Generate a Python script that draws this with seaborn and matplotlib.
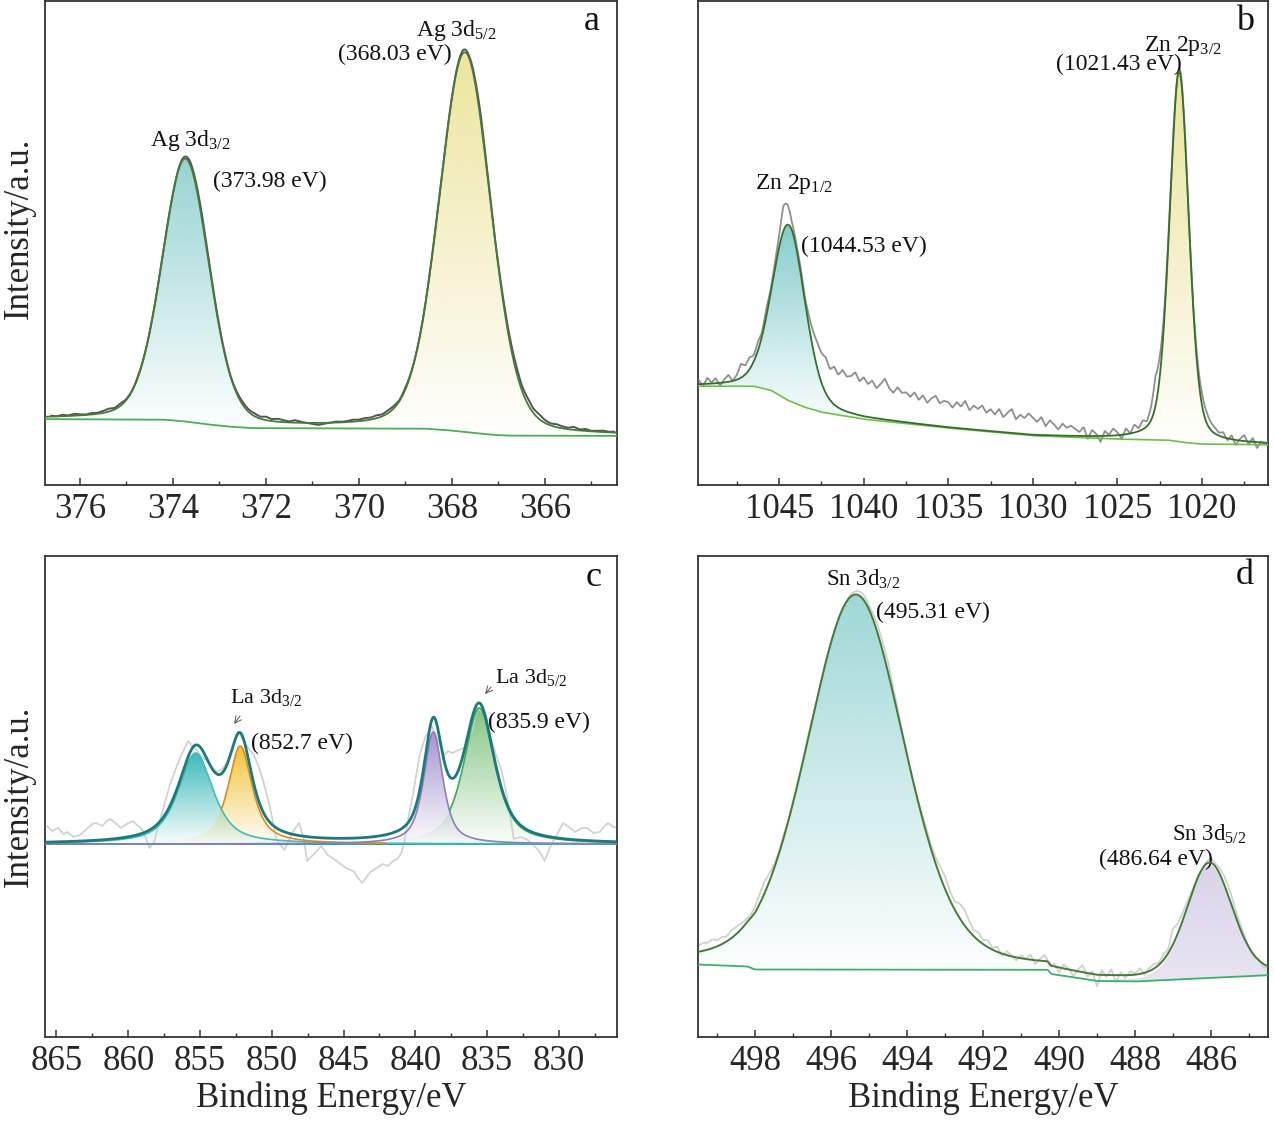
import numpy as np
import matplotlib
matplotlib.use("Agg")
import matplotlib.pyplot as plt
import seaborn as sns
from matplotlib.colors import to_rgb
from matplotlib.patches import Polygon
from matplotlib.ticker import MultipleLocator

# ======================= DATA =======================
# ---- panel a : Ag 3d ----
a_ticks = [376, 374, 372, 370, 368, 366]
a_peak_center = [373.73, 367.72]
a_peak_height = [262.5, 380.0]
a_peak_fwhm = [1.2, 1.32]
a_peak_eta = [0.2, 0.2]
a_bg_energy = [376.75, 374.2, 373.8, 373.3, 372.8, 372.3, 368.6, 368.1, 367.6, 367.1, 366.8, 364.45]
a_bg_intensity = [66, 65.5, 64, 61, 58.5, 57, 56.5, 55, 52.5, 50.2, 49.5, 49.2]
a_raw_start, a_raw_step = 376.625, 0.125
a_raw_dev = [1, 0, 1.5, 0.5, 2, 1, 0.5, 1.5,
             1, 2, 3, 1.5, 2.5, 1, 0.5, 1,
             0.5, 0, -0.5, 0, 0.5, 0, 1, 2,
             3, 4, 5, 4, 3, 2, 1.5, 1,
             2, 3, 2.5, 3, 2, 3.5, 2, 3,
             2, 1, 2.5, 1, 0, -1, -2, -1,
             0, 1, 0.5, 1, 2, 1.5, 2.5, 2,
             3, 2, 3, 2.5, 1, 2, 1, 0,
             -1, 0, 0.5, 1, 0, 1, 2, 3,
             2, 4, 6, 3, 1, 2, 4, 5,
             6, 5, 6, 4.5, 5, 3, 2, 3,
             2, 1.5, 3, 1, 2, 0.5, 1, 1.5,
             0.5, 1]

# ---- panel b : Zn 2p ----
b_ticks = [1045, 1040, 1035, 1030, 1025, 1020]
b_peak_center = [1044.45, 1021.35]
b_peak_height = [176.0, 371.0]
b_peak_fwhm = [2.3, 1.35]
b_peak_eta = [0.25, 0.3]
b_bg_energy = [1049.8, 1046.5, 1045.5, 1044.5, 1043.5, 1042.5, 1040, 1035, 1030, 1025, 1022, 1021, 1020, 1016.1]
b_bg_intensity = [99, 99, 95, 85, 78, 73, 66, 57, 49.4, 46, 45, 42.5, 41, 40.4]
b_raw_start, b_raw_step = 1049.75, 0.25
b_raw_dev = [4, -2, 6, 1, 5, -3, 3, 7, 0, 5,
             14, 9, 12, 6, 9, 4, 8, 3, 6, 12,
             25, 20, 8, 4, 6, 3, 10, 18, 26, 30,
             36, 31, 38, 33, 40, 35, 37, 42, 34, 39,
             33, 37, 30, 35, 41, 32, 28, 34, 29, 30,
             26, 31, 24, 29, 22, 27, 30, 23, 26, 25,
             20, 26, 22, 28, 19, 24, 21, 25, 18, 22,
             17, 23, 15, 20, 24, 14, 19, 16, 21, 17,
             13, 18, 9, 15, 11, 6, 12, 8, 10, 7,
             4, 9, -3, 6, 2, -6, 5, 1, 7, 3,
             -4, 6, 0, 8, 3, 9, 5, 14, 30, 20,
             10, 6, 3, 2, 4, 3, 2, 5, 9, 12,
             11, 8, 6, 3, 5, -2, 4, -5, 2, 6,
             -3, 4, -6, 1, -2, 3]

# ---- panel c : La 3d ----
c_ticks = [865, 860, 855, 850, 845, 840, 835, 830]
c_baseline = 193.0
c_peak_center = [855.3, 852.2, 838.75, 835.55]
c_peak_height = [91, 98, 112, 136]
c_peak_fwhm = [2.9, 2.0, 1.57, 2.57]
c_peak_eta = [0.7, 0.8, 0.7, 0.7]
c_raw_energy = [865.66, 865.3, 864.9, 864.5, 864.23, 863.8, 863.37, 862.9, 862.5, 862.23,
                861.8, 861.5, 861.23, 860.9, 860.52, 860.1, 859.67, 859.4, 859.10, 858.8,
                858.52, 858.2, 857.95, 857.5, 857.10, 856.7, 856.3, 855.82, 855.39, 854.95,
                854.53, 854.2, 853.82, 853.45, 853.11, 852.7, 852.34, 851.8, 851.25, 850.9,
                850.54, 850.1, 849.68, 849.4, 849.11, 848.8, 848.54, 848.11, 847.8, 847.54,
                847.0, 846.55, 846.1, 845.69, 845.3, 844.83, 844.5, 844.26, 843.95, 843.69,
                843.4, 843.12, 842.7, 842.27, 841.9, 841.55, 841.25, 840.98, 840.75, 840.56,
                840.1, 839.70, 839.3, 838.85, 838.4, 837.99, 837.7, 837.42, 837.0, 836.56,
                836.1, 835.71, 835.3, 834.85, 834.4, 834.00, 833.6, 833.14, 832.7, 832.28,
                831.85, 831.43, 831.2, 831.00, 830.8, 830.57, 830.1, 829.72, 829.3, 828.86,
                828.4, 828.01, 827.6, 827.15, 826.8, 826.58, 826.2, 825.95]
c_raw_intensity = [211, 206, 209, 203, 205, 200, 202, 208, 213, 214,
                   211, 216, 218, 214, 209, 213, 216, 212, 209, 200,
                   189, 195, 209, 232, 252, 268, 282, 296, 289, 282,
                   276, 270, 265, 268, 275, 292, 305, 292, 282, 270,
                   253, 228, 198, 192, 187, 197, 205, 214, 200, 176,
                   184, 191, 182, 178, 174, 169, 167, 165, 158, 154,
                   160, 165, 169, 173, 171, 176, 178, 184, 196, 213,
                   248, 282, 300, 311, 296, 282, 286, 284, 287, 289,
                   305, 329, 325, 305, 283, 267, 240, 198, 200, 198,
                   193, 187, 182, 176, 183, 191, 203, 214, 210, 205,
                   209, 209, 204, 205, 211, 214, 210, 209]

# ---- panel d : Sn 3d ----
d_ticks = [498, 496, 494, 492, 490, 488, 486]
d_peak_center = [495.35, 486.04]
d_peak_height = [375.0, 113.0]
d_peak_fwhm = [3.03, 1.4]
d_peak_eta = [0.25, 0.2]
d_bg_energy = [499.5, 498.2, 498.0, 490.3, 490.2, 489.0, 488.0, 484.5]
d_bg_intensity = [72.5, 70.5, 67.5, 67.2, 63, 56, 55.5, 61.8]
d_raw_start, d_raw_step = 499.5, 0.125
d_raw_dev = [6, 8, 7, 9, 6, 7, 5, 8, 7, 6,
             4, 3, 6, 10, 12, 8, 4, 2, 3, 1,
             2, 0, 1, 3, 2, 1, 0, 2, 1, 0,
             1, 0, 2, 3, 4, 5, 4, 6, 8, 9,
             10, 7, 4, 2, 0, -1, 1, 3, 5, 4,
             6, 10, 13, 9, 8, 14, 16, 11, 6, 8,
             4, 7, 2, 5, -2, 4, 1, -3, 3, 0,
             5, -4, 2, 6, -3, 3, -5, 4, 1, -6,
             2, 7, -4, 3, -12, 5, -2, 6, -7, 3,
             -3, 4, 1, 6, -2, 3, 5, 2, 6, 4,
             16, 10, 8, 5, 3, 2, 0, 2, 4, 3,
             6, 9, 10, 7, 5, 3, 0, -2, 1, -3, -2]

# ======================= STYLE =======================
sns.set_theme(style="ticks")
plt.rcParams['font.family'] = ['Liberation Serif', 'DejaVu Serif']
plt.rcParams['mathtext.fontset'] = 'custom'
plt.rcParams['mathtext.rm'] = 'Liberation Serif'
plt.rcParams['mathtext.it'] = 'Liberation Serif:italic'
plt.rcParams['mathtext.bf'] = 'Liberation Serif:bold'

SPINE = '#333333'


def pv(x, c, h, w, eta):
    d2 = 4.0 * (x - c) ** 2 / w ** 2
    return h * (eta / (1.0 + d2) + (1.0 - eta) * np.exp(-np.log(2.0) * d2))


def bg_at(x, e, i):
    e = np.asarray(e, float)
    i = np.asarray(i, float)
    o = np.argsort(e)
    return np.interp(x, e[o], i[o])


def gradient_fill(ax, x, ylow, yhigh, color, a_top=1.0, a_bot=0.0, zorder=1):
    verts = np.concatenate([np.column_stack([x, yhigh]),
                            np.column_stack([x[::-1], ylow[::-1]])])
    poly = Polygon(verts, closed=True, facecolor='none', edgecolor='none')
    ax.add_patch(poly)
    top = yhigh.max()
    bot = ylow.min()
    n = 256
    img = np.zeros((n, 1, 4))
    img[:, 0, :3] = to_rgb(color)
    img[:, 0, 3] = np.linspace(a_bot, a_top, n)
    im = ax.imshow(img, extent=(x.min(), x.max(), bot, top), origin='lower',
                   aspect='auto', zorder=zorder, interpolation='bilinear')
    im.set_clip_path(poly)


def line(ax, x, y, color, lw, z):
    sns.lineplot(x=x, y=y, ax=ax, color=color, linewidth=lw, sort=False,
                 estimator=None, zorder=z)


def style_axes(ax, xlim, ylim, ticks, minor):
    ax.set_xlim(*xlim)
    ax.set_ylim(*ylim)
    ax.set_xticks(ticks, labels=[str(t) for t in ticks])
    ax.xaxis.set_minor_locator(MultipleLocator(minor))
    ax.set_yticks([])
    ax.tick_params(axis='x', which='major', direction='in', length=5, width=1.1,
                   labelsize=25, pad=6, top=False, color=SPINE)
    ax.tick_params(axis='x', which='minor', direction='in', length=3, width=1.0,
                   top=False, color=SPINE)
    for s in ax.spines.values():
        s.set_visible(True)
        s.set_linewidth(1.3)
        s.set_color(SPINE)
    ax.set_xlabel('')
    ax.set_ylabel('')


fig = plt.figure(figsize=(12.74, 11.23), dpi=100)
W, H = 1274.0, 1123.0
ax_a = fig.add_axes([45 / W, 638 / H, 572 / W, 484 / H])
ax_b = fig.add_axes([698 / W, 638 / H, 570 / W, 484 / H])
ax_c = fig.add_axes([45 / W, 86 / H, 572 / W, 481 / H])
ax_d = fig.add_axes([698 / W, 86 / H, 570 / W, 481 / H])

ann_kw = dict(fontsize=17, ha='center', va='center', color='#111111')
letter_kw = dict(fontsize=26, ha='center', va='center', color='#111111')

# ======================= PANEL a =======================
ax = ax_a
xa = np.linspace(376.75, 364.45, 1500)
bga = bg_at(xa, a_bg_energy, a_bg_intensity)
pa = [pv(xa, c, h, w, e) for c, h, w, e in zip(a_peak_center, a_peak_height, a_peak_fwhm, a_peak_eta)]
enva = bga + pa[0] + pa[1]
raw_xa = a_raw_start - a_raw_step * np.arange(len(a_raw_dev))
xr = xa[(xa <= raw_xa[0]) & (xa >= raw_xa[-1])]
rawa = np.interp(xr, xa[::-1], enva[::-1]) + np.interp(xr, raw_xa[::-1], np.asarray(a_raw_dev, float)[::-1])
fill_cols = ['#97d3d3', '#ede59e']
for k in range(2):
    m = np.abs(xa - a_peak_center[k]) < 3.4 * a_peak_fwhm[k]
    gradient_fill(ax, xa[m], bga[m], bga[m] + pa[k][m], fill_cols[k], a_top=1.0, a_bot=0.02, zorder=1)
line(ax, xr, rawa, '#555555', 1.4, 3)
line(ax, xa, bga, '#4caf50', 1.3, 4)
line(ax, xa, enva, '#467a38', 1.3, 5)
style_axes(ax, (376.75, 364.45), (0, 485), a_ticks, 1)
ax.set_ylabel('Intensity/a.u.', fontsize=25)
ax.yaxis.set_label_coords(-0.016, 0.531)
ax.text(373.62, 345, r'Ag 3d$_{\mathregular{3/2}}$', **ann_kw)
ax.text(371.92, 304, '(373.98 eV)', **ann_kw)
ax.text(367.91, 455, r'Ag 3d$_{\mathregular{5/2}}$', **ann_kw)
ax.text(369.23, 431, '(368.03 eV)', **ann_kw)
ax.text(0.956, 0.958, 'a', transform=ax.transAxes, **letter_kw)

# ======================= PANEL b =======================
ax = ax_b
xb = np.linspace(1049.8, 1016.1, 2000)
bgb = bg_at(xb, b_bg_energy, b_bg_intensity)
pb = [pv(xb, c, h, w, e) for c, h, w, e in zip(b_peak_center, b_peak_height, b_peak_fwhm, b_peak_eta)]
envb = bgb + pb[0] + pb[1]
raw_xb = b_raw_start - b_raw_step * np.arange(len(b_raw_dev))
xr = xb[(xb <= raw_xb[0]) & (xb >= raw_xb[-1])]
rawb = np.interp(xr, xb[::-1], envb[::-1]) + np.interp(xr, raw_xb[::-1], np.asarray(b_raw_dev, float)[::-1])
fill_cols = ['#86cccc', '#ebe39a']
for k in range(2):
    m = np.abs(xb - b_peak_center[k]) < 2.8 * b_peak_fwhm[k]
    gradient_fill(ax, xb[m], bgb[m], bgb[m] + pb[k][m], fill_cols[k], a_top=1.0, a_bot=0.02, zorder=1)
line(ax, xr, rawb, '#8f8f8f', 1.3, 3)
line(ax, xb, bgb, '#6cc04a', 1.2, 4)
line(ax, xb, envb, '#356f2c', 1.3, 5)
style_axes(ax, (1049.8, 1016.1), (0, 485), b_ticks, 2.5)
ax.text(1044.1, 302, r'Zn 2p$_{\mathregular{1/2}}$', **ann_kw)
ax.text(1040.0, 239, '(1044.53 eV)', **ann_kw)
ax.text(1021.1, 440, r'Zn 2p$_{\mathregular{3/2}}$', **ann_kw)
ax.text(1024.9, 421, '(1021.43 eV)', **ann_kw)
ax.text(0.96, 0.958, 'b', transform=ax.transAxes, **letter_kw)

# ======================= PANEL c =======================
ax = ax_c
xc = np.linspace(865.8, 825.95, 2000)
base = np.full_like(xc, c_baseline)
pc = [pv(xc, c, h, w, e) for c, h, w, e in zip(c_peak_center, c_peak_height, c_peak_fwhm, c_peak_eta)]
envc = base + pc[0] + pc[1] + pc[2] + pc[3]
c_fill = ['#3dbaba', '#f2c43a', '#a696cf', '#84c684']
c_line = ['#3fbcbc', '#e08a1e', '#8c7cc0', '#3da85e']
for k in range(4):
    m = np.abs(xc - c_peak_center[k]) < 4.0 * c_peak_fwhm[k]
    gradient_fill(ax, xc[m], base[m], base[m] + pc[k][m], c_fill[k], a_top=1.0, a_bot=0.03,
                  zorder=1 + k * 0.1)
line(ax, np.asarray(c_raw_energy), np.asarray(c_raw_intensity, float), '#d2d2d2', 1.3, 2)
line(ax, xc, base, '#2aa0a0', 1.4, 3)
# component outlines (right-hand member of each pair shown where it dominates)
line(ax, xc, base + pc[0], c_line[0], 1.2, 4)
m = (pc[1] >= pc[0]) & (xc < c_peak_center[0])
line(ax, xc[m], (base + pc[1])[m], c_line[1], 1.2, 4)
line(ax, xc, base + pc[2], c_line[2], 1.2, 4)
m = (pc[3] >= pc[2]) & (xc < c_peak_center[2])
line(ax, xc[m], (base + pc[3])[m], c_line[3], 1.2, 4)
line(ax, xc, envc, '#1d7a7a', 2.0, 5)
style_axes(ax, (865.8, 825.95), (0, 481), c_ticks, 2.5)
ax.set_ylabel('Intensity/a.u.', fontsize=25)
ax.yaxis.set_label_coords(-0.016, 0.5)
ax.set_xlabel('Binding Energy/eV', fontsize=25, labelpad=2)
ax.text(850.4, 340, r'La 3d$_{\mathregular{3/2}}$', **dict(ann_kw, fontsize=16))
ax.text(847.9, 294, '(852.7 eV)', **ann_kw)
ax.text(831.9, 360, r'La 3d$_{\mathregular{5/2}}$', **dict(ann_kw, fontsize=16))
ax.text(831.4, 315, '(835.9 eV)', **ann_kw)
ax.annotate('', xy=(852.63, 313), xytext=(852.21, 321),
            arrowprops=dict(arrowstyle='->', lw=0.7, color='#555555', shrinkA=0, shrinkB=0))
ax.annotate('', xy=(835.14, 343), xytext=(834.72, 350),
            arrowprops=dict(arrowstyle='->', lw=0.7, color='#555555', shrinkA=0, shrinkB=0))
ax.text(0.96, 0.956, 'c', transform=ax.transAxes, **letter_kw)

# ======================= PANEL d =======================
ax = ax_d
xd = np.linspace(499.5, 484.5, 1500)
bgd = bg_at(xd, d_bg_energy, d_bg_intensity)
pd_ = [pv(xd, c, h, w, e) for c, h, w, e in zip(d_peak_center, d_peak_height, d_peak_fwhm, d_peak_eta)]
envd = bgd + pd_[0] + pd_[1]
raw_xd = d_raw_start - d_raw_step * np.arange(len(d_raw_dev))
xr = xd[(xd <= raw_xd[0]) & (xd >= raw_xd[-1])]
rawd = np.interp(xr, xd[::-1], envd[::-1]) + np.interp(xr, raw_xd[::-1], np.asarray(d_raw_dev, float)[::-1])
m = xd >= 490.4
gradient_fill(ax, xd[m], bgd[m], bgd[m] + pd_[0][m], '#9fd7d7', a_top=1.0, a_bot=0.02, zorder=1)
m = xd <= 488.6
gradient_fill(ax, xd[m], bgd[m], bgd[m] + pd_[1][m], '#d9d3ea', a_top=1.0, a_bot=0.6, zorder=1)
line(ax, xr, rawd, '#d0d0d0', 1.3, 2)
line(ax, xd, bgd, '#3cb06a', 1.3, 4)
line(ax, xd, envd, '#467a38', 1.4, 5)
style_axes(ax, (499.5, 484.5), (0, 481), d_ticks, 1)
ax.set_xlabel('Binding Energy/eV', fontsize=25, labelpad=2)
ax.text(495.16, 458, r'Sn 3d$_{\mathregular{3/2}}$', **dict(ann_kw, fontsize=16.5))
ax.text(493.32, 425, '(495.31 eV)', **ann_kw)
ax.text(486.05, 203, r'Sn 3d$_{\mathregular{5/2}}$', **dict(ann_kw, fontsize=16.5))
ax.text(487.45, 178, '(486.64 eV)', **ann_kw)
ax.text(0.96, 0.96, 'd', transform=ax.transAxes, **letter_kw)

fig.savefig('out.png', dpi=100, facecolor='white')
